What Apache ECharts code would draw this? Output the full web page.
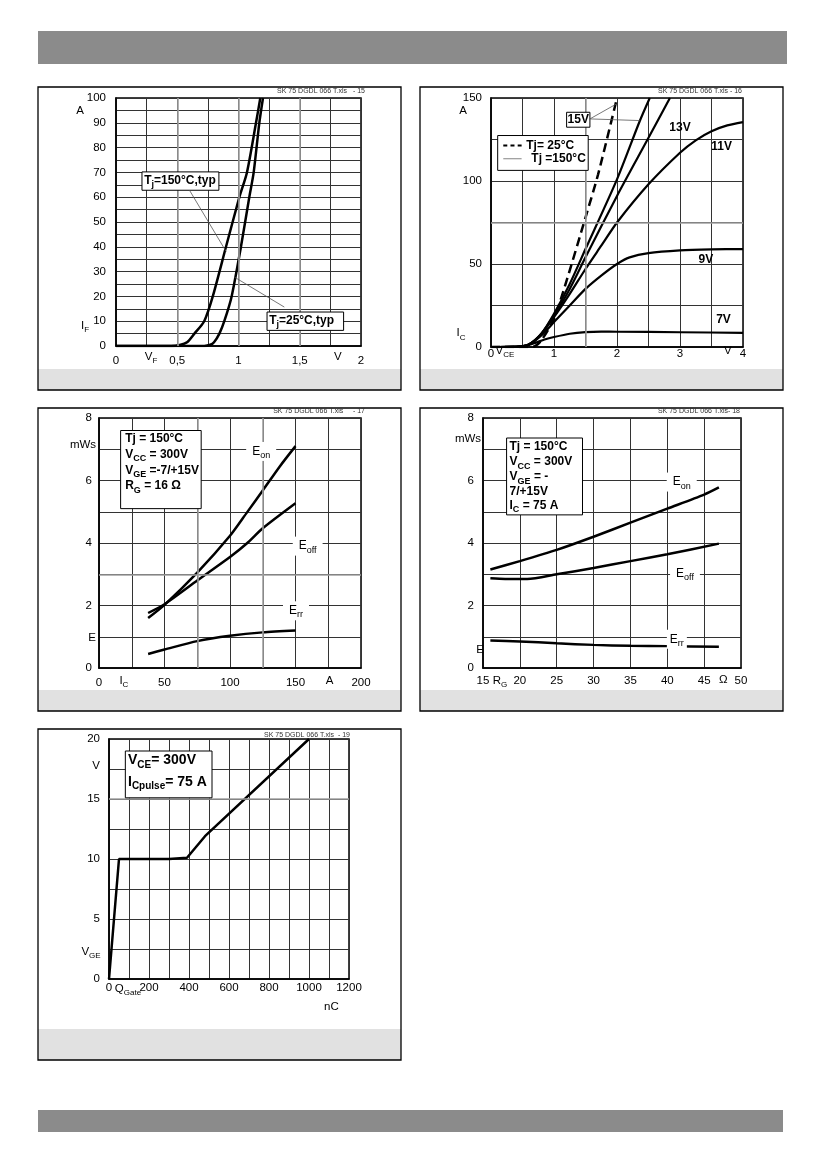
<!DOCTYPE html>
<html><head><meta charset="utf-8">
<script src="https://cdn.jsdelivr.net/npm/echarts/dist/echarts.min.js"></script>
<style>html,body{margin:0;padding:0;background:#fff}#c{width:826px;height:1169px}</style>
</head><body><div id="c"></div>
<script>
// ---------- DATA ----------
// Panel 1: forward characteristic of diode, IF [A] vs VF [V]
const vf150 = [[0,0],[0.45,0],[0.52,0.4],[0.58,1.5],[0.64,5],[0.72,10],[0.79,20],[0.898,40],[1.007,60],[1.069,70],[1.143,90],[1.178,100]];
const vf25  = [[0,0],[0.72,0],[0.77,0.5],[0.80,1.5],[0.844,5],[0.884,10],[0.944,20],[1.02,40],[1.088,60],[1.124,70],[1.170,90],[1.20,100]];
const p1xLabels = ['0','','0,5','','1','','1,5','','2'];
const p1yLabels = ['0','','10','','20','','30','','40','','50','','60','','70','','80','','90','','100'];
// Panel 2: output characteristic IC [A] vs VCE [V]
const ic7   = [[0,0],[0.4,0.2],[0.55,0.8],[0.7,2.5],[0.85,4.5],[1,6],[1.25,8],[1.5,9],[1.75,9.3],[2,9.2],[3,8.9],[4,8.5]];
const ic9   = [[0,0],[0.4,0.1],[0.6,1.5],[0.8,7],[1,15],[1.25,25],[1.5,35],[1.75,43],[2,50],[2.2,54],[2.5,56.6],[3,58.2],[3.5,58.8],[4,59]];
const ic11  = [[0,0],[0.4,0.1],[0.6,1.5],[0.8,8],[1,18],[1.25,32],[1.5,47],[1.75,61],[2,75],[2.5,98],[3,117],[3.25,124.5],[3.5,130],[3.75,133.5],[4,135.5]];
const ic13  = [[0,0],[0.4,0.1],[0.6,1.5],[0.8,8],[1,19],[1.25,35],[1.5,54],[2,91],[2.5,126],[2.84,150]];
const ic15  = [[0,0],[0.4,0.1],[0.6,1.5],[0.8,8],[1,20],[1.25,38],[1.5,59],[2,101],[2.36,136],[2.52,150]];
const ic15c = [[0,0],[0.6,0],[0.7,0.5],[0.8,4],[1,17],[1.2,40],[1.5,78],[1.7,104],[2,150]];
const p2xLabels = ['0','','1','','2','','3','','4'];
const p2yLabels = ['0','','50','','100','','150'];
// Panel 3: switching energy vs IC
const eOnIc  = [[37.5,1.6],[50,2.02],[75,3.05],[100,4.23],[113,4.98],[125,5.68],[138,6.45],[150,7.1]];
const eOffIc = [[37.5,1.76],[50,2.04],[75,2.8],[100,3.55],[113,3.99],[125,4.47],[150,5.27]];
const eRrIc  = [[37.5,0.45],[50,0.59],[75,0.86],[100,1.03],[125,1.14],[150,1.2]];
const p3xLabels = ['0','','50','','100','','150','','200'];
const p3yLabels = ['0','','2','','4','','6','','8'];
// Panel 4: switching energy vs RG
const eOnRg  = [[16,3.15],[20,3.42],[25,3.78],[30,4.2],[35,4.65],[40,5.1],[45,5.55],[47,5.78]];
const eOffRg = [[16,2.87],[18,2.85],[21,2.85],[25,3.0],[30,3.2],[35,3.42],[40,3.64],[47,3.98]];
const eRrRg  = [[16,0.88],[20,0.85],[25,0.79],[30,0.74],[35,0.71],[40,0.7],[47,0.68]];
const p4xLabels = ['15','20','25','30','35','40','45','50'];
const p4yLabels = ['0','','2','','4','','6','','8'];
// Panel 5: gate charge
const vgeQ = [[0,0],[50,10],[300,10],[390,10.1],[480,11.9],[1000,20]];
const p5xLabels = ['0','','200','','400','','600','','800','','1000','','1200'];
const p5yLabels = ['0','','5','','10','','15','','20'];

// ---------- CHART ----------
const FONT = '"Liberation Sans", Arial, sans-serif';
const chart = echarts.init(document.getElementById('c'));

function mkFmt(labels, min, step){
  return v => { const i = Math.round((v - min) / step); return labels[i] != null ? labels[i] : ''; };
}
function axis(gi, min, max, step, labels, margin){
  return {
    type:'value', gridIndex:gi, min, max, interval:step,
    axisLine:{show:true, onZero:false, lineStyle:{color:'#000', width:1.5}},
    axisTick:{show:false},
    splitLine:{show:true, lineStyle:{color:'#333', width:1}},
    axisLabel:{formatter:mkFmt(labels, min, step), margin, color:'#000', fontSize:11.5, fontFamily:FONT, showMinLabel:true, showMaxLabel:true}
  };
}
const gridBoxes = [
  {left:116, top:98, width:245, height:248},
  {left:491, top:98, width:252, height:249},
  {left:99,  top:418, width:262, height:250},
  {left:483, top:418, width:258, height:250},
  {left:109, top:739, width:240, height:240}
].map(g => Object.assign(g, {show:true, borderColor:'#000', borderWidth:1.5, backgroundColor:'#fff', containLabel:false, outerBoundsMode:'none'}));

function line(gi, data, extra){
  return Object.assign({type:'line', xAxisIndex:gi, yAxisIndex:gi, data, symbol:'none', smooth:0.25,
    lineStyle:{color:'#000', width:2.5}, silent:true, z:3}, extra || {});
}
function grayLines(list){
  return {silent:true, symbol:'none', label:{show:false}, animation:false,
    lineStyle:{color:'#a0a0a0', width:1.6, type:'solid'}, data:list};
}

const option = {
  animation:false,
  backgroundColor:'#fff',
  grid:gridBoxes,
  xAxis:[
    axis(0, 0, 2, 0.25, p1xLabels, 9),
    axis(1, 0, 4, 0.5, p2xLabels, 1),
    axis(2, 0, 200, 25, p3xLabels, 9),
    axis(3, 15, 50, 5, p4xLabels, 7),
    axis(4, 0, 1200, 100, p5xLabels, 3)
  ],
  yAxis:[
    axis(0, 0, 100, 5, p1yLabels, 10),
    axis(1, 0, 150, 25, p2yLabels, 9),
    axis(2, 0, 8, 1, p3yLabels, 7),
    axis(3, 0, 8, 1, p4yLabels, 9),
    axis(4, 0, 20, 2.5, p5yLabels, 9)
  ],
  series:[
    line(0, vf150, {name:'Tj=150°C', markLine:grayLines([{xAxis:0.5},{xAxis:1},{xAxis:1.5}])}),
    line(0, vf25, {name:'Tj=25°C'}),
    line(1, ic7, {name:'7V', lineStyle:{color:'#000', width:2.2}, markLine:grayLines([{xAxis:1.5},{yAxis:75}])}),
    line(1, ic9, {name:'9V', lineStyle:{color:'#000', width:2.2}}),
    line(1, ic11, {name:'11V', lineStyle:{color:'#000', width:2.2}}),
    line(1, ic13, {name:'13V', lineStyle:{color:'#000', width:2.2}}),
    line(1, ic15, {name:'15V', lineStyle:{color:'#000', width:2.2}}),
    line(1, ic15c, {name:'15V 25°C', lineStyle:{color:'#000', width:2.5, type:[9,5]}}),
    line(2, eOnIc, {name:'Eon', markLine:grayLines([{xAxis:75},{xAxis:125},{yAxis:3}])}),
    line(2, eOffIc, {name:'Eoff'}),
    line(2, eRrIc, {name:'Err'}),
    line(3, eOnRg, {name:'Eon'}),
    line(3, eOffRg, {name:'Eoff'}),
    line(3, eRrRg, {name:'Err'}),
    line(4, vgeQ, {name:'VGE', smooth:false, markLine:grayLines([{yAxis:15}])})
  ]
};
chart.setOption(option);

// ---------- ANNOTATIONS ----------
function R(size, bold){
  const w = bold ? 'bold' : 'normal';
  const ss = Math.round(size * 0.72);
  return {
    m:{fontSize:size, fontWeight:w, fontFamily:FONT, lineHeight:size + 5, fill:'#000', color:'#000'},
    s:{fontSize:ss, fontWeight:w, fontFamily:FONT, lineHeight:ss, verticalAlign:'bottom', fill:'#000', color:'#000'}
  };
}
function T(x, y, text, size, bold, align, extra){
  return {type:'text', x, y, z:100, silent:true,
    style:Object.assign({text, rich:R(size, bold), fill:'#000',
      font:(bold ? 'bold ' : '') + size + 'px ' + FONT, align:align || 'center', verticalAlign:'middle'}, extra || {})};
}
const P = (gi, x, y) => chart.convertToPixel({gridIndex:gi}, [x, y]);
function boxD(gi, x1, y1, x2, y2){
  const a = P(gi, x1, y1), b = P(gi, x2, y2);
  return {type:'rect', z:90, silent:true, shape:{x:Math.min(a[0],b[0]), y:Math.min(a[1],b[1]), width:Math.abs(b[0]-a[0]), height:Math.abs(b[1]-a[1])},
    style:{fill:'#fff', stroke:'#000', lineWidth:1}};
}
function lineD(gi, x1, y1, x2, y2, style){
  const a = P(gi, x1, y1), b = P(gi, x2, y2);
  return {type:'line', z:95, silent:true, shape:{x1:a[0], y1:a[1], x2:b[0], y2:b[1]},
    style:Object.assign({stroke:'#555', lineWidth:0.8}, style || {})};
}
function textD(gi, x, y, text, size, bold, align, extra){
  const a = P(gi, x, y); return T(a[0], a[1], text, size, bold, align, extra);
}
function textOff(gi, x, y, dx, dy, text, size){
  const a = P(gi, x, y); return T(a[0] + dx, a[1] + dy, text, size || 11.5, false, 'center');
}
const WB = {backgroundColor:'#fff', padding:[1,6]};

const g = [];
// page bars
g.push({type:'rect', z:1, silent:true, shape:{x:38, y:31, width:749, height:33}, style:{fill:'#8b8b8b'}});
g.push({type:'rect', z:1, silent:true, shape:{x:38, y:1110, width:745, height:22}, style:{fill:'#8b8b8b'}});
// panel frames and gray strips
[[38,87,363,303,21],[420,87,363,303,21],[38,408,363,303,21],[420,408,363,303,21],[38,729,363,331,31]].forEach(f => {
  g.push({type:'rect', z:1, silent:true, shape:{x:f[0], y:f[1]+f[3]-f[4], width:f[2], height:f[4]}, style:{fill:'#e1e1e1'}});
  g.push({type:'rect', z:2, silent:true, shape:{x:f[0], y:f[1], width:f[2], height:f[3]}, style:{fill:'none', stroke:'#000', lineWidth:1.3}});
});
// source file tags
[[365,91,'SK 75 DGDL 066 T.xls   - 15'],[742,91,'SK 75 DGDL 066 T.xls - 16'],[365,411,'SK 75 DGDL 066 T.xls     - 17'],
 [740,411,'SK 75 DGDL 066 T.xls- 18'],[350,735,'SK 75 DGDL 066 T.xls  - 19']].forEach(s => {
  g.push({type:'text', z:100, silent:true, x:s[0], y:s[1], style:{text:s[2], font:'7px ' + FONT, fill:'#333', align:'right', verticalAlign:'middle'}});
});

// Panel 1
g.push(textOff(0, 0, 95, -36, 0, 'A'));
g.push(textOff(0, 0, 8.3, -31, 0, '{m|I}{s|F}'));
g.push(textOff(0, 0.286, 0, 0, 11, '{m|V}{s|F}'));
g.push(textOff(0, 1.81, 0, 0, 11, 'V'));
g.push(boxD(0, 0.212, 70.2, 0.84, 62.8));
g.push(textD(0, 0.23, 66.6, '{m|T}{s|j}{m|=150°C,typ}', 12, true, 'left'));
g.push(lineD(0, 0.60, 62.8, 0.90, 38.0));
g.push(boxD(0, 1.233, 13.7, 1.858, 6.3));
g.push(textD(0, 1.25, 10.1, '{m|T}{s|j}{m|=25°C,typ}', 12, true, 'left'));
g.push(lineD(0, 1.374, 15.7, 0.966, 27.8));

// Panel 2
g.push(textOff(1, 0, 142.4, -28, 0, 'A'));
g.push(textOff(1, 0, 8.4, -30, 0, '{m|I}{s|C}'));
g.push(textOff(1, 0.22, 0, 0, 4, '{m|V}{s|CE}'));
g.push(textOff(1, 3.76, 0, 0, 4, 'V'));
g.push(boxD(1, 0.106, 127.4, 1.543, 106.4));
g.push(lineD(1, 0.195, 121.4, 0.486, 121.4, {stroke:'#000', lineWidth:2.2, lineDash:[4,3.2]}));
g.push(textD(1, 0.56, 121.4, 'Tj= 25°C', 12, true, 'left'));
g.push(lineD(1, 0.195, 113.4, 0.486, 113.4, {stroke:'#666', lineWidth:0.8}));
g.push(textD(1, 0.64, 113.4, 'Tj =150°C', 12, true, 'left'));
g.push(lineD(1, 1.57, 137.4, 1.99, 146.4));
g.push(lineD(1, 1.57, 137.4, 2.36, 136.4));
g.push(boxD(1, 1.2, 141.4, 1.57, 132.4));
g.push(textD(1, 1.385, 136.9, '15V', 12, true, 'center'));
g.push(textD(1, 3.0, 132.4, '13V', 12, true, 'center'));
g.push(textD(1, 3.66, 120.4, '11V', 12, true, 'center'));
g.push(textD(1, 3.41, 52.4, '9V', 12, true, 'center'));
g.push(textD(1, 3.69, 16.4, '7V', 12, true, 'center'));

// Panel 3
g.push(textOff(2, 0, 7.15, -16, 0, 'mWs'));
g.push(textOff(2, 0, 0.96, -7, 0, 'E'));
g.push(textOff(2, 19, 0, 0, 13, '{m|I}{s|C}'));
g.push(textOff(2, 176, 0, 0, 13, 'A'));
g.push(boxD(2, 16.5, 7.6, 78, 5.1));
g.push(textD(2, 20, 7.34, 'Tj = 150°C', 12, true, 'left'));
g.push(textD(2, 20, 6.83, '{m|V}{s|CC}{m| = 300V}', 12, true, 'left'));
g.push(textD(2, 20, 6.33, '{m|V}{s|GE}{m| =-7/+15V}', 12, true, 'left'));
g.push(textD(2, 20, 5.82, '{m|R}{s|G}{m| = 16 Ω}', 12, true, 'left'));
g.push(textD(2, 123.8, 6.93, '{m|E}{s|on}', 12, false, 'center', WB));
g.push(textD(2, 159.3, 3.9, '{m|E}{s|off}', 12, false, 'center', WB));
g.push(textD(2, 150.4, 1.83, '{m|E}{s|rr}', 12, false, 'center', WB));

// Panel 4
g.push(textOff(3, 15, 7.34, -15, 0, 'mWs'));
g.push(textOff(3, 15, 0.57, -3, 0, 'E'));
g.push(textOff(3, 17.3, 0, 0, 13, '{m|R}{s|G}'));
g.push(textOff(3, 47.6, 0, 0, 12, 'Ω'));
g.push(boxD(3, 18.2, 7.36, 28.5, 4.9));
g.push(textD(3, 18.6, 7.07, 'Tj = 150°C', 12, true, 'left'));
g.push(textD(3, 18.6, 6.59, '{m|V}{s|CC}{m| = 300V}', 12, true, 'left'));
g.push(textD(3, 18.6, 6.11, '{m|V}{s|GE}{m| = -}', 12, true, 'left'));
g.push(textD(3, 18.6, 5.65, '7/+15V', 12, true, 'left'));
g.push(textD(3, 18.6, 5.2, '{m|I}{s|C}{m| = 75 A}', 12, true, 'left'));
g.push(textD(3, 41.96, 5.95, '{m|E}{s|on}', 12, false, 'center', WB));
g.push(textD(3, 42.4, 3.02, '{m|E}{s|off}', 12, false, 'center', WB));
g.push(textD(3, 41.3, 0.92, '{m|E}{s|rr}', 12, false, 'center', {backgroundColor:'#fff', padding:[1,3]}));

// Panel 5
g.push(textOff(4, 0, 17.8, -13, 0, 'V'));
g.push(textOff(4, 0, 2.3, -18, 0, '{m|V}{s|GE}'));
g.push(textOff(4, 95, 0, 0, 10, '{m|Q}{s|Gate}'));
g.push(textOff(4, 1112, 0, 0, 28, 'nC'));
g.push(boxD(4, 81.7, 19.0, 515, 15.1));
g.push(textD(4, 95, 18.2, '{m|V}{s|CE}{m|= 300V}', 14, true, 'left'));
g.push(textD(4, 95, 16.4, '{m|I}{s|Cpulse}{m|= 75 A}', 14, true, 'left'));

chart.setOption({graphic:{elements:g}});
</script>
</body></html>
